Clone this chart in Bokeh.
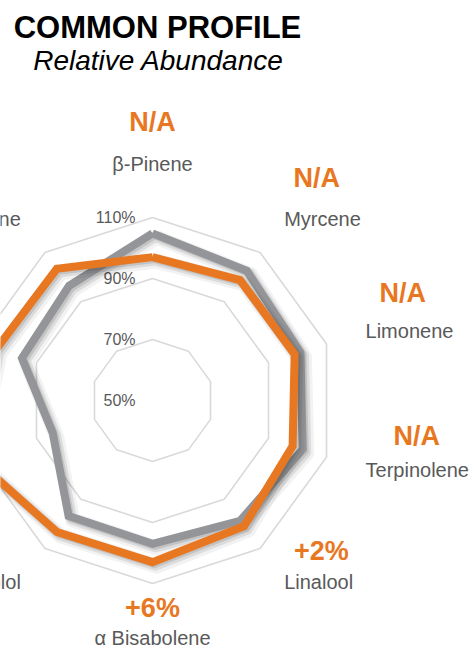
import numpy as np
from bokeh.plotting import figure
from bokeh.models import Range1d, ColumnDataSource
from bokeh.core.properties import value
from bokeh.embed import file_html
from bokeh.resources import INLINE

# ---------------- data ----------------
categories = ["β-Pinene", "Myrcene", "Limonene", "Terpinolene", "Linalool",
              "α Bisabolene", "α Bisabolol", "Humulene", "α-Pinene", "Caryophyllene"]
sample_values = [97.0, 98.8, 99.0, 98.3, 101.0, 103.0, 103.3, 111.5, 104.0, 103.4]
common_values = [104.8, 102.6, 101.0, 101.8, 98.8, 97.0, 96.8, 84.4, 95.0, 96.5]
change_labels = ["N/A", "N/A", "N/A", "N/A", "+2%", "+6%", "+7%", "+27%", "+9%", "N/A"]
tick_values = [50, 70, 90, 110]
tick_labels = ["50%", "70%", "90%", "110%"]
title_text = "COMMON PROFILE"
subtitle_text = "Relative Abundance"

# ---------------- layout / style ----------------
AXIS_MIN, AXIS_MAX = 50.0, 110.0
R_OUTER = 183.0          # pixel radius of the outer (110%) ring
ORANGE = "#E87722"
GRAY = "#939598"
GRID = "#D9D9D9"
TEXT_GRAY = "#595959"
FONT = "Liberation Sans"

n = len(categories)
theta = np.arange(n) * 2 * np.pi / n


def radius(v):
    return (np.asarray(v, dtype=float) - AXIS_MIN) / (AXIS_MAX - AXIS_MIN) * R_OUTER


def polar_xy(vals):
    r = radius(vals)
    xs = list(r * np.sin(theta)) + [r[0] * np.sin(theta[0])]
    ys = list(r * np.cos(theta)) + [r[0] * np.cos(theta[0])]
    return xs, ys


p = figure(width=476, height=648,
           x_range=Range1d(-152, 324), y_range=Range1d(-248, 400),
           output_backend="svg", toolbar_location=None,
           x_axis_location=None, y_axis_location=None, min_border=0)
p.grid.visible = False
p.outline_line_color = None
p.background_fill_color = "white"
p.border_fill_color = "white"

# grid rings
for tv in tick_values:
    if tv <= AXIS_MIN:
        continue
    gx, gy = polar_xy([tv] * n)
    p.line(gx, gy, line_color=GRID, line_width=1.6)

# tick labels
tick_y = [float(radius(t)) for t in tick_values]
p.text(x=[-17] * len(tick_values), y=tick_y, text=tick_labels,
       text_font=value(FONT), text_font_size="16px", text_color=TEXT_GRAY,
       text_align="right", text_baseline="middle")

# series with soft shadows
for vals, col in [(common_values, GRAY), (sample_values, ORANGE)]:
    sx, sy = polar_xy(vals)
    for off, w, a in [(4, 15, 0.05), (3, 11, 0.09), (2, 8, 0.11)]:
        p.line([x + off for x in sx], [y - off for y in sy],
               line_color="black", line_alpha=a, line_width=w, line_join="round")
    p.line(sx, sy, line_color=col, line_width=8, line_join="miter")

# category and change labels
nx, ny, nal, vx, vy = [], [], [], [], []
for i, name in enumerate(categories):
    s, c = np.sin(theta[i]), np.cos(theta[i])
    est_w = len(name) * 9.3
    if abs(s) < 0.1:
        r = 237.0
        x, y, al, cx = r * s, r * c, "center", r * s
    else:
        r = 224.0
        x, y = r * s, r * c
        al = "left" if s > 0 else "right"
        cx = x + (est_w / 2 if s > 0 else -est_w / 2)
    nx.append(x); ny.append(y); nal.append(al)
    vx.append(cx); vy.append(y + 36 + 6 * c)

src = ColumnDataSource(dict(x=nx, y=ny, text=categories, align=nal))
p.text(x="x", y="y", text="text", text_align="align", source=src,
       text_font=value(FONT), text_font_size="20px", text_color=TEXT_GRAY,
       text_baseline="middle")
p.text(x=vx, y=vy, text=change_labels,
       text_font=value(FONT), text_font_size="27px", text_font_style="bold",
       text_color=ORANGE, text_align="center", text_baseline="middle")

# titles
p.text(x=[5], y=[373], text=[title_text], text_font=value(FONT),
       text_font_size="31px", text_font_style="bold", text_color="black",
       text_align="center", text_baseline="middle")
p.text(x=[6], y=[340], text=[subtitle_text], text_font=value(FONT),
       text_font_size="28px", text_font_style="italic", text_color="black",
       text_align="center", text_baseline="middle")

open("out.html", "w").write(file_html(p, INLINE))
